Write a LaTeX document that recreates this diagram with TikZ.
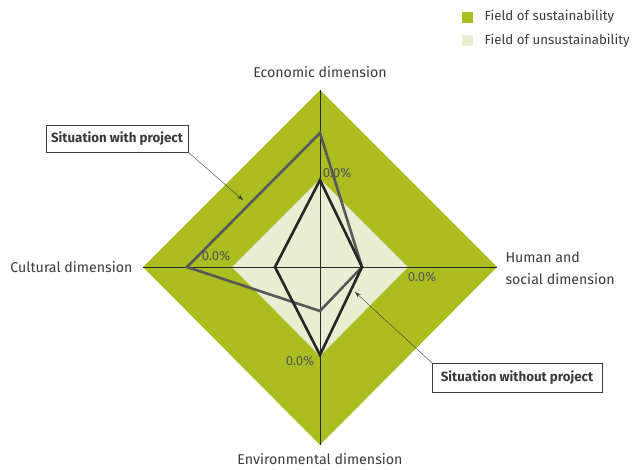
\documentclass[tikz,border=0pt]{standalone}
\usepackage{fontspec}
\setmainfont{Fira Sans}
\usetikzlibrary{positioning, arrows.meta, calc}
\definecolor{sustgreen}{HTML}{ADBC1F}
\definecolor{unsustgreen}{HTML}{E9EDD1}
\definecolor{withgray}{HTML}{58585A}
\definecolor{textgray}{HTML}{3A3A3A}
\tikzset{
    dimlabel/.style={text=textgray, font=\fontsize{14.2}{22}\selectfont},
    legendlabel/.style={text=textgray, font=\fontsize{13.3}{14}\selectfont, anchor=west},
    pctlabel/.style={text=textgray!85, font=\fontsize{13.2}{14}\selectfont, inner sep=0pt},
    situationbox/.style={draw=textgray, fill=white, text=textgray, font=\bfseries\fontsize{13.3}{14}\selectfont, inner sep=0pt},
    callout/.style={textgray, thin, -{Stealth[length=6pt, width=4pt]}},
}

\begin{document}
\begin{tikzpicture}[x=1pt, y=-1pt]
    \useasboundingbox (0,0) rectangle (635,469);
    \coordinate (O) at (320,267);
    % outer and inner fields
    \coordinate (Etop) at ($(O)+(0,-177)$);
    \coordinate (Hright) at ($(O)+(177,0)$);
    \coordinate (Vbot) at ($(O)+(0,178)$);
    \coordinate (Cleft) at ($(O)+(-177,0)$);
    \fill [sustgreen] (Etop) -- (Hright) -- (Vbot) -- (Cleft) -- cycle;
    \fill [unsustgreen] ($(O)+(0,-88)$) -- ($(O)+(88,0)$) -- ($(O)+(0,89)$) -- ($(O)+(-88,0)$) -- cycle;
    % axes
    \draw [black!85, line width=0.8pt] (Etop) -- (Vbot);
    \draw [black!85, line width=0.8pt] (Cleft) -- (Hright);
    % situations
    \draw [withgray, line width=2.6pt] (320,133) -- (362,267) -- (320,311) -- (187,267) -- cycle;
    \draw [black!85, line width=2.6pt] (320,180) -- (362,267) -- (320,355) -- (275,267) -- cycle;
    % percentages
    \node [pctlabel] at (337,173) {0.0\%};
    \node [pctlabel] at (216,256) {0.0\%};
    \node [pctlabel] at (422,277) {0.0\%};
    \node [pctlabel] at (300,361) {0.0\%};
    % dimension labels
    \node [dimlabel] (econ) at (320,72) {Economic dimension};
    \node [dimlabel, anchor=east] (cult) at (136,267) {Cultural dimension};
    \node [dimlabel, anchor=west, align=left] (human) at (502,268) {Human and\\social dimension};
    \node [dimlabel] (env) at (320,459) {Environmental dimension};
    % legend
    \fill [sustgreen] (462,12) rectangle (473,23);
    \node [legendlabel] (sust) at (481,17) {Field of sustainability};
    \fill [unsustgreen] (462,35) rectangle (473,46);
    \node [legendlabel] (unsust) at (481,41) {Field of unsustainability};
    % callouts
    \node [situationbox, minimum width=142pt, minimum height=27pt] (withbox) at (117,138.5) {Situation with project};
    \node [situationbox, minimum width=170pt, minimum height=29pt] (withoutbox) at (517,377.5) {Situation without project};
    \coordinate (withtip) at (243,200);
    \coordinate (withouttip) at (355,292);
    \draw [callout] (withbox.south east) -- (withtip);
    \draw [callout] (withoutbox.north west) -- (withouttip);
\end{tikzpicture}
\end{document}
